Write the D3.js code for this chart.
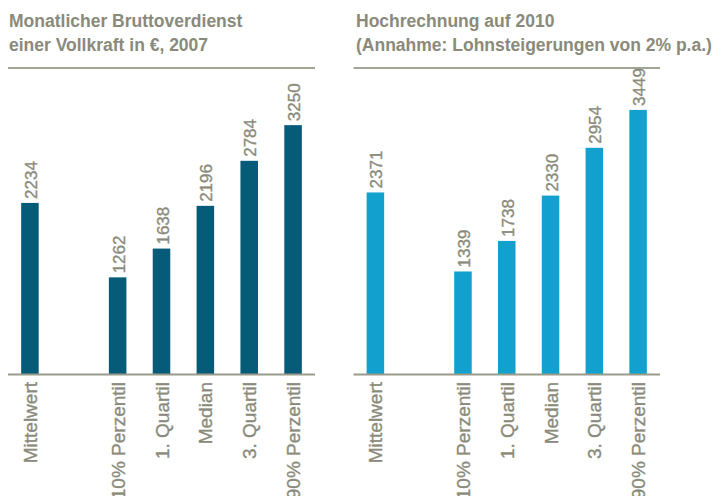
<!DOCTYPE html>
<html>
<head>
<meta charset="utf-8">
<script src="https://cdn.jsdelivr.net/npm/d3@7"></script>
<style>
  body { margin: 0; background: #fff; }
  text { font-family: "Liberation Sans", Arial, sans-serif; fill: #8a8a7b; }
  text.value, text.cat { stroke: #8a8a7b; stroke-width: 0.35px; }
</style>
</head>
<body>
<div id="chart"></div>
<script>
const width = 714;
const height = 496;

const categories = ["Mittelwert", "10% Perzentil", "1. Quartil", "Median", "3. Quartil", "90% Perzentil"];
const values2007 = [2234, 1262, 1638, 2196, 2784, 3250];
const values2010 = [2371, 1339, 1738, 2330, 2954, 3449];
const titles2007 = ["Monatlicher Bruttoverdienst", "einer Vollkraft in €, 2007"];
const titles2010 = ["Hochrechnung auf 2010", "(Annahme: Lohnsteigerungen von 2% p.a.)"];

// empty slot between the mean and the percentiles
const domain = [categories[0], "_gap", ...categories.slice(1)];

const panels = [
  { titles: titles2007, values: values2007, color: "#065b78", x0: 8, x1: 315, tx: 9 },
  { titles: titles2010, values: values2010, color: "#12a0cf", x0: 353.5, x1: 660, tx: 356 }
];

const baseY = 374;
const y = d3.scaleLinear().domain([0, 3500]).range([baseY, 106]);

const svg = d3.select("#chart")
  .append("svg")
  .attr("width", width)
  .attr("height", height);

panels.forEach((p) => {
  const x = d3.scaleBand()
    .domain(domain)
    .range([p.x0, p.x1])
    .paddingInner(0.6)
    .paddingOuter(0.3);

  const g = svg.append("g");

  // title
  g.selectAll("text.title")
    .data(p.titles)
    .enter()
    .append("text")
    .attr("class", "title")
    .attr("x", p.tx)
    .attr("y", (d, i) => 27 + i * 23.5)
    .style("font-size", "17.5px")
    .style("font-weight", "bold")
    .text((d) => d);

  // rule under title
  g.append("line")
    .attr("x1", p.x0)
    .attr("x2", p.x1)
    .attr("y1", 68)
    .attr("y2", 68)
    .attr("stroke", "#a3a396")
    .attr("stroke-width", 2);

  const data = categories.map((c, i) => ({ cat: c, value: p.values[i] }));

  g.selectAll("rect")
    .data(data)
    .enter()
    .append("rect")
    .attr("x", (d) => x(d.cat))
    .attr("width", x.bandwidth())
    .attr("y", (d) => y(d.value))
    .attr("height", (d) => baseY - y(d.value))
    .attr("fill", p.color);

  // baseline
  g.append("line")
    .attr("x1", p.x0)
    .attr("x2", p.x1)
    .attr("y1", baseY + 0.5)
    .attr("y2", baseY + 0.5)
    .attr("stroke", "#9a9a8b")
    .attr("stroke-width", 2);

  // value labels
  g.selectAll("text.value")
    .data(data)
    .enter()
    .append("text")
    .attr("class", "value")
    .attr("transform", (d) =>
      `translate(${x(d.cat) + x.bandwidth() / 2 + 7},${y(d.value) - 4}) rotate(-90)`)
    .style("font-size", "17px")
    .text((d) => d.value);

  // category labels (the long ones run off the bottom, as in the original)
  g.selectAll("text.cat")
    .data(data)
    .enter()
    .append("text")
    .attr("class", "cat")
    .attr("text-anchor", "end")
    .attr("transform", (d) =>
      `translate(${x(d.cat) + x.bandwidth() / 2 + 7},${baseY + 8}) rotate(-90)`)
    .style("font-size", "19px")
    .text((d) => d.cat);
});
</script>
</body>
</html>
